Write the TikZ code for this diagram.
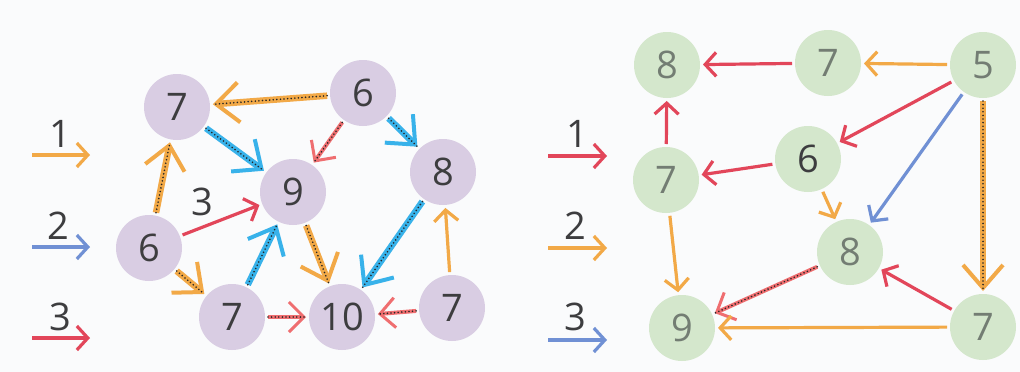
\documentclass[tikz,border=0pt]{standalone}
\usepackage{fontspec}
\setmainfont{Open Sans}
\usetikzlibrary{arrows.meta}

\definecolor{lila}{HTML}{D9CDE3}
\definecolor{mint}{HTML}{D4E7CC}
\definecolor{orng}{HTML}{F2A947}
\definecolor{rd}{HTML}{E2465A}
\definecolor{ltrd}{HTML}{EF6E70}
\definecolor{bl}{HTML}{7090D4}
\definecolor{sky}{HTML}{38B2EA}
\definecolor{ink}{HTML}{3D3D3F}
\definecolor{pencil}{HTML}{737D73}
\definecolor{paper}{HTML}{FAFBFC}

\begin{document}
\begin{tikzpicture}[x=1pt, y=-1pt,
    every node/.style={font=\fontsize{38}{38}\selectfont, text=ink},
    lv/.style={circle, fill=lila, minimum size=66pt, inner sep=0pt, outer sep=3pt},
    rv/.style={lv, fill=mint},
    hw/.style={text=pencil},
    edge/.style={line width=3.2pt, -{Straight Barb[length=11pt,width=24pt]}},
    best/.style={line width=6.5pt, -{Straight Barb[length=23pt,width=40pt,line width=4pt]},
      postaction={draw=black!85, line width=1.8pt, dash pattern=on 0pt off 3.6pt, line cap=round, -}},
    bestthin/.style={best, line width=4pt, -{Straight Barb[length=15pt,width=30pt,line width=3pt]}}]
    \fill[paper] (0,0) rectangle (1020,372);
    \useasboundingbox (0,0) rectangle (1020,372);

    % legend, left graph
    \node (k1) at (60,134) {1};
    \node (k2) at (58,226) {2};
    \node (k3) at (60,317) {3};
    \coordinate (k1a) at (32,155); \coordinate (k1b) at (90,155);
    \coordinate (k2a) at (32,247); \coordinate (k2b) at (90,247);
    \coordinate (k3a) at (32,338); \coordinate (k3b) at (90,338);
    \draw[edge,orng] (k1a) -- (k1b);
    \draw[edge,bl] (k2a) -- (k2b);
    \draw[edge,rd] (k3a) -- (k3b);

    % left graph
    \node[lv] (a) at (177,107) {7};
    \node[lv] (b) at (363,93) {6};
    \node[lv] (c) at (293,192) {9};
    \node[lv] (d) at (443,172) {8};
    \node[lv] (e) at (149,248) {6};
    \node[lv] (f) at (232,317) {7};
    \node[lv] (g) at (342,317) {10};
    \node[lv] (h) at (452,308) {7};
    \node (w3) at (202,202) {3};

    \draw[best,orng] (b) -- (a);
    \draw[best,sky] (a) -- (c);
    \draw[bestthin,ltrd] (b) -- (c);
    \draw[best,sky] (b) -- (d);
    \draw[best,orng] (e) -- (a);
    \draw[edge,rd] (e) -- (c);
    \draw[best,orng] (e) -- (f);
    \draw[best,sky] (f) -- (c);
    \draw[best,orng] (c) -- (g);
    \draw[best,sky] (d) -- (g);
    \draw[edge,orng] (h) -- (d);
    \draw[bestthin,ltrd] (f) -- (g);
    \draw[bestthin,ltrd] (h) -- (g);

    % legend, right graph
    \node (m1) at (577,134) {1};
    \node (m2) at (575,226) {2};
    \node (m3) at (575,317) {3};
    \coordinate (m1a) at (548,156); \coordinate (m1b) at (607,156);
    \coordinate (m2a) at (548,248); \coordinate (m2b) at (607,248);
    \coordinate (m3a) at (548,340); \coordinate (m3b) at (607,340);
    \draw[edge,rd] (m1a) -- (m1b);
    \draw[edge,orng] (m2a) -- (m2b);
    \draw[edge,bl] (m3a) -- (m3b);

    % right graph
    \node[rv,hw] (p) at (667,65) {8};
    \node[rv,hw] (q) at (828,63) {7};
    \node[rv,hw] (r) at (983,65) {5};
    \node[rv] (s) at (808,159) {6};
    \node[rv,hw] (t) at (666,180) {7};
    \node[rv,hw] (u) at (850,252) {8};
    \node[rv,hw] (v) at (682,328) {9};
    \node[rv,hw] (w) at (983,327) {7};

    \draw[edge,orng] (r) -- (q);
    \draw[edge,rd] (q) -- (p);
    \draw[edge,rd] (r) -- (s);
    \draw[edge,bl] (r) -- (u);
    \draw[best,orng] (r) -- (w);
    \draw[edge,rd] (s) -- (t);
    \draw[edge,orng] (s) -- (u);
    \draw[edge,rd] (t) -- (p);
    \draw[edge,orng] (t) -- (v);
    \draw[bestthin,ltrd] (u) -- (v);
    \draw[edge,rd] (w) -- (u);
    \draw[edge,orng] (w) -- (v);
\end{tikzpicture}
\end{document}
